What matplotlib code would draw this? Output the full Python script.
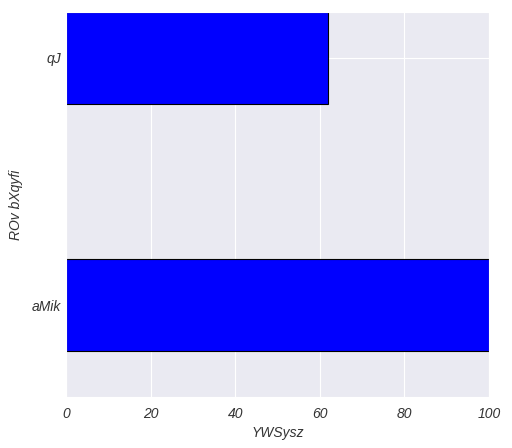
import matplotlib
matplotlib.use("Agg")
import matplotlib.pyplot as plt
import seaborn as sns

categories = ["aMik", "qJ"]
values = [100, 62]

sns.set_style("darkgrid")
plt.rcParams['font.family'] = ['Liberation Sans', 'DejaVu Sans']
plt.rcParams['font.style'] = 'italic'

fig = plt.figure(figsize=(5.12, 4.48), dpi=100)
ax = fig.add_axes([66/512, 1-397/448, (489-66)/512, (397-12)/448])
ax.barh(categories, values, height=0.372, color="#0000ff", edgecolor="black", linewidth=0.8)
ax.set_xlim(0, 100)
ax.set_ylim(-0.372, 1.186)
ax.set_xticks([0, 20, 40, 60, 80, 100])
ax.set_xlabel("YWSysz", color="#333333", fontsize=10, style='italic')
ax.set_ylabel("ROv bXqyfi", color="#333333", fontsize=10, style='italic', labelpad=6)
ax.tick_params(axis='x', labelsize=10, colors="#333333")
ax.tick_params(axis='y', labelsize=10, colors="#333333", pad=0)
for t in ax.get_xticklabels() + ax.get_yticklabels():
    t.set_style('italic')
fig.savefig("out.png", dpi=100)
